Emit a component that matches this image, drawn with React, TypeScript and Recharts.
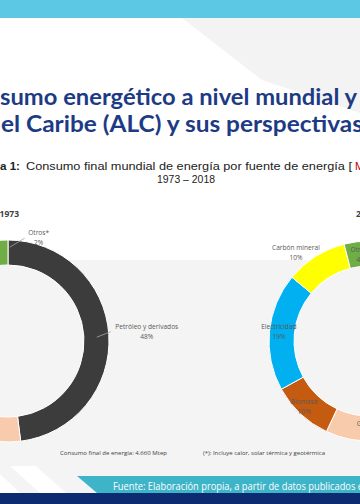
import { PieChart, Pie, Cell } from 'recharts'

// fuentes de energía, en el orden en que Excel las dibuja (desde las 12, sentido horario)
const fuentes = ['Petróleo y derivados', 'Gas natural', 'Biomasa', 'Electricidad', 'Carbón mineral', 'Otros*']
const shares1973 = [48, 14, 13, 9, 14, 2]
const shares2018 = [41, 16, 10, 19, 10, 4]
const years = ['1973', '2018']

const colores = ['#3c3c3c', '#f8cbad', '#c55a11', '#00b0f0', '#ffff00', '#70ad47']

const data1973 = fuentes.map((name, i) => ({ name, value: shares1973[i] }))
const data2018 = fuentes.map((name, i) => ({ name, value: shares2018[i] }))

const RAD = Math.PI / 180
const sans = '"Open Sans", "Noto Sans", sans-serif'

// donde va cada etiqueta: radio + ajuste; line = leader line relativa al centro del texto
type Tweak = { r?: number; dx: number; dy: number; line?: number[] }
const labelTweaks: Record<string, Tweak> = {
  '1973:Petróleo y derivados': { r: 101, dx: 38, dy: -3, line: [-50, 5.5, -36, 0] },
  '1973:Otros*': { r: 101, dx: 37, dy: -3, line: [-29, 10, -14, 1] },
  '2018:Carbón mineral': { r: 100, dx: -19.5, dy: -4.3 },
  '2018:Electricidad': { dx: -3, dy: -1 },
  '2018:Biomasa': { dx: -5, dy: 1.5 },
  '2018:Otros*': { dx: 3, dy: 0 },
}

const makeLabel = (year: string) => (p: any) => {
  const t = labelTweaks[`${year}:${p.name}`] ?? { dx: 0, dy: 0 }
  const r = t.r ?? (p.innerRadius + p.outerRadius) / 2
  const a = -p.midAngle * RAD
  const x = p.cx + r * Math.cos(a) + t.dx
  const y = p.cy + r * Math.sin(a) + t.dy
  return (
    <g key={`${year}-${p.name}`}>
      {t.line && (
        <line x1={x + t.line[0]} y1={y + t.line[1]} x2={x + t.line[2]} y2={y + t.line[3]} stroke="#a6a6a6" strokeWidth={0.8} />
      )}
      <text x={x} y={y - 4.9} textAnchor="middle" dominantBaseline="central" fontFamily={sans} fontSize={6.6} fill="#595959">
        {p.name}
      </text>
      <text x={x} y={y + 4.9} textAnchor="middle" dominantBaseline="central" fontFamily={sans} fontSize={6.6} fill="#595959">
        {p.value}%
      </text>
    </g>
  )
}

export default function App() {
  return (
    <div style={{ position: 'absolute', left: 0, top: 0, width: 360, height: 504, overflow: 'hidden', background: '#fff' }}>
      <svg width={360} height={504} style={{ position: 'absolute', left: 0, top: 0 }}>
        <rect x={0} y={0} width={360} height={18} fill="#5cc8e3" />
        <polygon points="182,18 360,18 360,113 262,80" fill="#f3f3f3" />
        <rect x={0} y={260} width={360} height={233} fill="#f4f4f4" />
        <polygon points="10,466 36,466 66,493 40,493" fill="#ffffff" />
        <polygon points="0,474 0,493 20,493" fill="#ffffff" />
        <polygon points="77,476 360,476 360,493 97,493" fill="#3db4c7" />
        <rect x={0} y={493} width={360} height={11} fill="#0c2b70" />

        <text x={0} y={105} fontFamily="Lato, sans-serif" fontWeight={700} fontSize={22} fill="#1d3b84" textLength={357} lengthAdjust="spacingAndGlyphs">
          sumo energético a nivel mundial y
        </text>
        <text x={1} y={132} fontFamily="Lato, sans-serif" fontWeight={700} fontSize={22} fill="#1d3b84" textLength={362} lengthAdjust="spacingAndGlyphs">
          el Caribe (ALC) y sus perspectivas
        </text>

        <g fontFamily='"Liberation Sans", Arial, sans-serif' fontSize={11} fill="#222">
          <text x={0} y={166} dominantBaseline="central" fontWeight={700} textLength={20} lengthAdjust="spacingAndGlyphs">a 1:</text>
          <text x={26} y={166} dominantBaseline="central" textLength={326} lengthAdjust="spacingAndGlyphs">
            Consumo final mundial de energía por fuente de energía [
          </text>
          <text x={355} y={166} dominantBaseline="central" fill="#c00000">M</text>
          <text x={186} y={179} dominantBaseline="central" textAnchor="middle" textLength={58} lengthAdjust="spacingAndGlyphs">
            1973 – 2018
          </text>
        </g>

        <text x={19} y={213} textAnchor="end" dominantBaseline="central" fontFamily={sans} fontWeight={700} fontSize={8.5} fill="#404040">
          {years[0]}
        </text>
        <text x={356} y={213} dominantBaseline="central" fontFamily={sans} fontWeight={700} fontSize={8.5} fill="#404040">
          {years[1]}
        </text>

        <text x={60} y={453} dominantBaseline="central" fontFamily={sans} fontSize={5.8} fill="#404040" textLength={107} lengthAdjust="spacingAndGlyphs">
          Consumo final de energía: 4.660 Mtep
        </text>
        <text x={203} y={453} dominantBaseline="central" fontFamily={sans} fontSize={5.8} fill="#404040" textLength={122} lengthAdjust="spacingAndGlyphs">
          (*): Incluye calor, solar térmica y geotérmica
        </text>

        <text x={113} y={486} dominantBaseline="central" fontFamily={sans} fontSize={10.5} fill="#fff" textLength={250} lengthAdjust="spacingAndGlyphs">
          Fuente: Elaboración propia, a partir de datos publicados e
        </text>
      </svg>

      <div style={{ position: 'absolute', left: 0, top: 0 }}>
        <PieChart width={360} height={504} margin={{ top: 0, right: 0, bottom: 0, left: 0 }}>
          <Pie
            data={data1973}
            dataKey="value"
            nameKey="name"
            cx={8}
            cy={341}
            innerRadius={76}
            outerRadius={101}
            startAngle={90}
            endAngle={-270}
            stroke="#fff"
            strokeWidth={1}
            label={makeLabel(years[0])}
            labelLine={false}
            isAnimationActive={false}
          >
            {data1973.map((d, i) => (
              <Cell key={d.name} fill={colores[i]} />
            ))}
          </Pie>
          <Pie
            data={data2018}
            dataKey="value"
            nameKey="name"
            cx={369}
            cy={341}
            innerRadius={75}
            outerRadius={100}
            startAngle={90}
            endAngle={-270}
            stroke="#fff"
            strokeWidth={1}
            label={makeLabel(years[1])}
            labelLine={false}
            isAnimationActive={false}
          >
            {data2018.map((d, i) => (
              <Cell key={d.name} fill={colores[i]} />
            ))}
          </Pie>
        </PieChart>
      </div>
    </div>
  )
}
